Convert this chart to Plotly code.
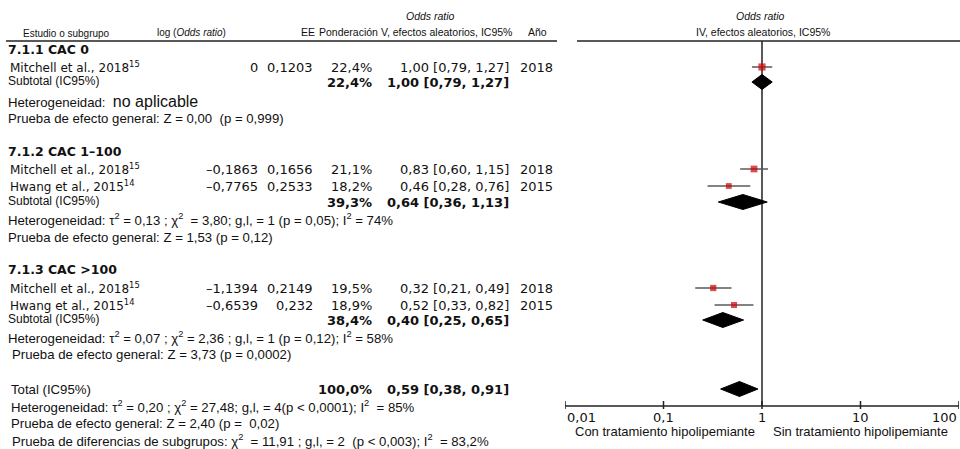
import numpy as np
import plotly.graph_objects as go

# ---------------- data ----------------
section_titles = ["7.1.1 CAC 0", "7.1.2 CAC 1–100", "7.1.3 CAC >100"]
study_names = ["Mitchell et al., 2018", "Mitchell et al., 2018", "Hwang et al., 2015",
               "Mitchell et al., 2018", "Hwang et al., 2015"]
study_refs = ["15", "15", "14", "15", "14"]
log_or = [0, -0.1863, -0.7765, -1.1394, -0.6539]
se = [0.1203, 0.1656, 0.2533, 0.2149, 0.232]
weights = [22.4, 21.1, 18.2, 19.5, 18.9]
or_est = [1.00, 0.83, 0.46, 0.32, 0.52]
ci_lo = [0.79, 0.60, 0.28, 0.21, 0.33]
ci_hi = [1.27, 1.15, 0.76, 0.49, 0.82]
years = [2018, 2018, 2015, 2018, 2015]

sub_weight = [22.4, 39.3, 38.4]
sub_or = [1.00, 0.64, 0.40]
sub_lo = [0.79, 0.36, 0.25]
sub_hi = [1.27, 1.13, 0.65]

total_weight = 100.0
total_or = 0.59
total_lo = 0.38
total_hi = 0.91

hetero_texts = [
    "Heterogeneidad:  <span style='font-size:16px'>no aplicable</span>",
    "Heterogeneidad: τ<sup>2</sup> = 0,13 ; χ<sup>2</sup>  = 3,80; g,l, = 1 (p = 0,05); I<sup>2</sup> = 74%",
    "Heterogeneidad: τ<sup>2</sup> = 0,07 ; χ<sup>2</sup> = 2,36 ; g,l, = 1 (p = 0,12); I<sup>2</sup> = 58%",
]
effect_texts = [
    "Prueba de efecto general: Z = 0,00  (p = 0,999)",
    "Prueba de efecto general: Z = 1,53 (p = 0,12)",
    "Prueba de efecto general: Z = 3,73 (p = 0,0002)",
]
total_texts = [
    "Heterogeneidad: τ<sup>2</sup> = 0,20 ; χ<sup>2</sup> = 27,48; g,l, = 4(p &lt; 0,0001); I<sup>2</sup>  = 85%",
    "Prueba de efecto general: Z = 2,40 (p =  0,02)",
    "Prueba de diferencias de subgrupos: χ<sup>2</sup>  = 11,91 ; g,l, = 2  (p &lt; 0,003); I<sup>2</sup>  = 83,2%",
]
tick_vals = [0.01, 0.1, 1, 10, 100]
tick_text = ["0,01", "0,1", "1", "10", "100"]

# ---------------- layout constants ----------------
W, H = 960, 449
study_y = [67, 169, 186, 288, 305]
sub_y = [82, 202, 320]
title_y = [49, 151, 269]
hetero_y = [101, 219, 337]
effect_y = [118, 237, 354]
total_y = 389
total_lines_y = [406, 423, 440]
axis_y = 406
header_line_y = 41
diamond_half = 7.5

NUM_FONT = "DejaVu Sans"
LBL_FONT = "Liberation Sans, Arial, sans-serif"
RED = "#cc0000"
CI_COL = "#5a5a5a"
DARK = "#222222"


def fmt(v, d):
    return f"{v:.{d}f}".replace(".", ",")


def fmt_raw(v):
    if v == 0:
        return "0"
    return str(v).replace(".", ",").replace("-", "–")


fig = go.Figure()
ann = []


def txt(x, y, s, size=12, family=LBL_FONT, anchor="left", color="#111111"):
    ann.append(dict(x=x / W, y=y, xref="paper", yref="y", text=s, showarrow=False,
                    xanchor=anchor, yanchor="middle",
                    font=dict(size=size, family=family, color=color)))


# header
txt(430, 16, "<i>Odds ratio</i>", 10.5, anchor="center")
txt(21, 33, "Estudio o subgrupo", 10)
txt(155, 32, "log (<i>Odds ratio</i>)", 10)
txt(299, 32, "EE", 10.5)
txt(317, 32, "Ponderación V, efectos aleatorios, IC95%", 10.5)
txt(526, 32, "Año", 10.5)
txt(760, 16, "<i>Odds ratio</i>", 10.5, anchor="center")
txt(763, 32, "IV, efectos aleatorios, IC95%", 10.5, anchor="center")

# studies
for i in range(len(study_names)):
    y = study_y[i]
    txt(8, y, f"{study_names[i]}<sup>{study_refs[i]}</sup>", 12, NUM_FONT)
    txt(260, y, fmt_raw(log_or[i]), 13, NUM_FONT, "right")
    txt(315, y, fmt_raw(se[i]), 13, NUM_FONT, "right")
    txt(374, y, fmt(weights[i], 1) + "%", 13, NUM_FONT, "right")
    txt(511, y, f"{fmt(or_est[i], 2)} [{fmt(ci_lo[i], 2)}, {fmt(ci_hi[i], 2)}]", 13, NUM_FONT, "right")
    txt(518, y, str(years[i]), 13, NUM_FONT)

for k in range(3):
    txt(6, title_y[k], f"<b>{section_titles[k]}</b>", 12.5, NUM_FONT)
    txt(6, sub_y[k] - 1, "Subtotal (IC95%)", 12)
    txt(374, sub_y[k], f"<b>{fmt(sub_weight[k], 1)}%</b>", 13, NUM_FONT, "right")
    txt(511, sub_y[k], f"<b>{fmt(sub_or[k], 2)} [{fmt(sub_lo[k], 2)}, {fmt(sub_hi[k], 2)}]</b>",
        13, NUM_FONT, "right")
    txt(6, hetero_y[k], hetero_texts[k], 13.2)
    txt(10 if k == 2 else 6, effect_y[k], effect_texts[k], 13.2)

txt(9, total_y, "Total (IC95%)", 13.2)
txt(374, total_y, f"<b>{fmt(total_weight, 1)}%</b>", 13, NUM_FONT, "right")
txt(511, total_y, f"<b>{fmt(total_or, 2)} [{fmt(total_lo, 2)}, {fmt(total_hi, 2)}]</b>",
    13, NUM_FONT, "right")
for j, s in enumerate(total_texts):
    txt(9 if j < 2 else 10, total_lines_y[j], s, 13.2)

# header lines
shapes = [
    dict(type="line", xref="paper", yref="y", x0=6 / W, x1=557 / W, y0=header_line_y, y1=header_line_y,
         line=dict(color=DARK, width=1.5)),
    dict(type="line", xref="paper", yref="y", x0=577 / W, x1=1, y0=header_line_y, y1=header_line_y,
         line=dict(color=DARK, width=1.5)),
]

# vertical line at OR = 1
fig.add_trace(go.Scatter(x=[1, 1], y=[header_line_y, axis_y], mode="lines",
                         line=dict(color=DARK, width=1.5), hoverinfo="skip"))
# axis line
fig.add_trace(go.Scatter(x=[tick_vals[0], tick_vals[-1]], y=[axis_y, axis_y], mode="lines",
                         line=dict(color=DARK, width=1.5), hoverinfo="skip"))
# ticks
tx, ty = [], []
for v in tick_vals:
    tx += [v, v, None]
    ty += [axis_y - 5, axis_y + 3, None]
fig.add_trace(go.Scatter(x=tx, y=ty, mode="lines", line=dict(color=DARK, width=1.5), hoverinfo="skip"))
for v, t in zip(tick_vals, tick_text):
    anchor = "left" if v == tick_vals[0] else ("right" if v == tick_vals[-1] else "center")
    ann.append(dict(x=np.log10(v), y=417, xref="x", yref="y", text=t, showarrow=False,
                    xanchor=anchor, yanchor="middle", font=dict(size=13, family=NUM_FONT, color="#111")))
txt(665, 431, "Con tratamiento hipolipemiante", 13, anchor="center")
txt(860, 431, "Sin tratamiento hipolipemiante", 13, anchor="center")

# CI lines
cx, cy = [], []
for i in range(len(or_est)):
    cx += [ci_lo[i], ci_hi[i], None]
    cy += [study_y[i], study_y[i], None]
fig.add_trace(go.Scatter(x=cx, y=cy, mode="lines", line=dict(color=CI_COL, width=1.5), hoverinfo="skip"))
# squares
fig.add_trace(go.Scatter(x=or_est, y=study_y, mode="markers",
                         marker=dict(symbol="square", color=RED, size=[w * 0.32 for w in weights],
                                     line=dict(width=0)), hoverinfo="skip"))


# diamonds
def diamond(est, lo, hi, yc):
    fig.add_trace(go.Scatter(x=[lo, est, hi, est, lo], y=[yc, yc - diamond_half, yc, yc + diamond_half, yc],
                             mode="lines", fill="toself", fillcolor="black",
                             line=dict(color="black", width=1), hoverinfo="skip"))


for k in range(3):
    diamond(sub_or[k], sub_lo[k], sub_hi[k], sub_y[k])
diamond(total_or, total_lo, total_hi, total_y)

fig.update_layout(
    width=W, height=H, margin=dict(l=0, r=0, t=0, b=0),
    paper_bgcolor="white", plot_bgcolor="white", showlegend=False,
    xaxis=dict(type="log", range=[-2, 2], domain=[565 / W, 959 / W], visible=False),
    yaxis=dict(range=[H, 0], domain=[0, 1], visible=False),
    annotations=ann, shapes=shapes,
)
fig.write_html("out.html", config={"displayModeBar": False},
               post_script="document.body.style.margin='0';document.body.style.overflow='hidden';")
